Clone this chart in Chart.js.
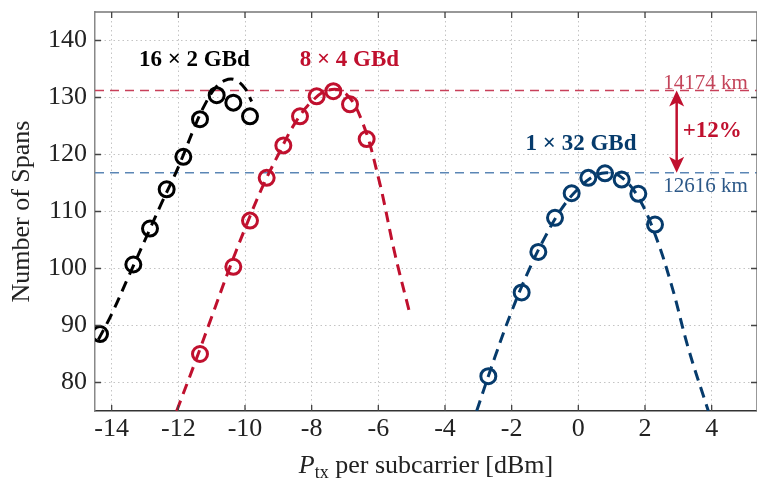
<!DOCTYPE html>
<html lang="en">
<head>
<meta charset="UTF-8">
<title>Number of Spans vs launch power</title>
<script src="https://cdn.jsdelivr.net/npm/chart.js"></script>
<style>
  html, body { margin: 0; padding: 0; background: #fff; }
  #wrap { width: 757px; height: 479px; }
</style>
</head>
<body>
<div id="wrap"><canvas id="spanChart" width="757" height="479"></canvas></div>
<script>
// measured points (launch power per subcarrier [dBm], number of spans)
const blackX = [-14.35, -13.35, -12.85, -12.35, -11.85, -11.35, -10.85, -10.35, -9.85];
const blackY = [88.5, 100.7, 107.0, 113.9, 119.6, 126.2, 130.4, 129.1, 126.7];
const redX = [-11.35, -10.35, -9.85, -9.35, -8.85, -8.35, -7.85, -7.35, -6.85, -6.35];
const redY = [85.0, 100.3, 108.4, 115.9, 121.6, 126.7, 130.2, 131.1, 128.8, 122.7];
const blueX = [-2.7, -1.7, -1.2, -0.7, -0.2, 0.3, 0.8, 1.3, 1.8, 2.3];
const blueY = [81.1, 95.8, 102.9, 108.9, 113.2, 115.9, 116.7, 115.6, 113.1, 107.7];

// dashed fit curves
const fitBlackX = [-14.4, -14.0, -13.5, -13.0, -12.5, -12.0, -11.5, -11.2, -10.9, -10.6, -10.3, -10.0, -9.8];
const fitBlackY = [87.5, 92.0, 98.5, 105.0, 111.5, 117.8, 125.0, 128.8, 131.6, 133.0, 133.1, 131.6, 129.3];
const fitRedX = [-12.05, -11.5, -11.0, -10.5, -10.0, -9.5, -9.0, -8.5, -8.0, -7.5, -7.0, -6.5, -6.0, -5.5, -5.05];
const fitRedY = [75.0, 83.5, 91.5, 99.5, 107.0, 114.0, 120.0, 125.5, 129.3, 131.3, 130.8, 126.0, 116.0, 102.5, 92.0];
const fitBlueX = [-3.05, -2.5, -2.0, -1.5, -1.0, -0.5, 0.0, 0.5, 0.9, 1.3, 1.8, 2.3, 2.8, 3.3, 3.9];
const fitBlueY = [75.0, 84.5, 92.5, 99.5, 105.5, 110.5, 114.0, 116.3, 116.8, 116.0, 112.5, 106.0, 97.0, 86.0, 75.0];

const xTicks = [-14, -12, -10, -8, -6, -4, -2, 0, 2, 4];
const yTicks = [80, 90, 100, 110, 120, 130, 140];

// best reach of each configuration, in spans
const refLevels = [131.24, 116.81];
const refLabels = ['14174 km', '12616 km'];
const groupLabels = ['16 \u00d7 2 GBd', '8 \u00d7 4 GBd', '1 \u00d7 32 GBd'];
const groupLabelX = [-11.52, -6.87, 0.08];
const groupLabelY = [136.5, 136.5, 121.8];
const gainLabel = '+12%';
const arrowX = 2.95;

const BLACK = '#000000';
const RED = '#c0102e';
const BLUE = '#063b6c';
const SERIF = '"Liberation Serif", "DejaVu Serif", serif';

const pairs = (xs, ys) => xs.map((v, i) => ({ x: v, y: ys[i] }));

function fitSet(xs, ys, color) {
    return {
        data: pairs(xs, ys), showLine: true, pointRadius: 0,
        borderColor: color, borderWidth: 3, borderDash: [11, 7],
        tension: 0.4
    };
}
function markSet(xs, ys, color) {
    return {
        data: pairs(xs, ys), showLine: false, pointRadius: 7.5,
        pointBorderWidth: 3, pointBorderColor: color,
        pointBackgroundColor: 'rgba(0,0,0,0)'
    };
}

const decor = {
    id: 'decor',
    beforeDatasetsDraw(chart) {
        const { ctx, chartArea: a, scales: { y } } = chart;
        const cols = ['#c8405a', '#5b86b5'];
        ctx.save();
        ctx.lineWidth = 1.4;
        ctx.setLineDash([9, 6]);
        refLevels.forEach((v, i) => {
            const py = y.getPixelForValue(v);
            ctx.strokeStyle = cols[i];
            ctx.beginPath();
            ctx.moveTo(a.left, py);
            ctx.lineTo(a.right, py);
            ctx.stroke();
        });
        ctx.restore();
    },
    afterDraw(chart) {
        const { ctx, chartArea: a, scales: { x, y } } = chart;
        ctx.save();

        // frame on top and inward ticks on all sides
        ctx.strokeStyle = '#777';
        ctx.lineWidth = 1.5;
        ctx.beginPath();
        ctx.moveTo(a.left, a.top);
        ctx.lineTo(a.right, a.top);
        ctx.lineTo(a.right, a.bottom);
        ctx.stroke();
        ctx.strokeStyle = '#444';
        ctx.lineWidth = 1.3;
        ctx.beginPath();
        xTicks.forEach(v => {
            const px = x.getPixelForValue(v);
            ctx.moveTo(px, a.bottom); ctx.lineTo(px, a.bottom - 6);
            ctx.moveTo(px, a.top); ctx.lineTo(px, a.top + 6);
        });
        yTicks.forEach(v => {
            const py = y.getPixelForValue(v);
            ctx.moveTo(a.left, py); ctx.lineTo(a.left + 6, py);
            ctx.moveTo(a.right, py); ctx.lineTo(a.right - 6, py);
        });
        ctx.stroke();

        // double arrow between the two reach levels
        const ax = x.getPixelForValue(arrowX);
        const yTop = y.getPixelForValue(refLevels[0]);
        const yBot = y.getPixelForValue(refLevels[1]);
        ctx.strokeStyle = RED;
        ctx.fillStyle = RED;
        ctx.lineWidth = 2.5;
        ctx.beginPath();
        ctx.moveTo(ax, yTop + 10);
        ctx.lineTo(ax, yBot - 10);
        ctx.stroke();
        const head = (tipY, dir) => {
            ctx.beginPath();
            ctx.moveTo(ax, tipY);
            ctx.lineTo(ax - 7.5, tipY + dir * 16);
            ctx.lineTo(ax, tipY + dir * 12);
            ctx.lineTo(ax + 7.5, tipY + dir * 16);
            ctx.closePath();
            ctx.fill();
        };
        head(yTop, 1);
        head(yBot, -1);

        // texts
        ctx.textBaseline = 'middle';
        ctx.textAlign = 'center';
        ctx.font = 'bold 23px ' + SERIF;
        [BLACK, RED, BLUE].forEach((c, i) => {
            ctx.fillStyle = c;
            ctx.fillText(groupLabels[i], x.getPixelForValue(groupLabelX[i]), y.getPixelForValue(groupLabelY[i]));
        });
        ctx.fillStyle = RED;
        ctx.textAlign = 'left';
        ctx.fillText(gainLabel, ax + 6, (yTop + yBot) / 2);

        ctx.font = '21px ' + SERIF;
        ctx.textBaseline = 'alphabetic';
        ctx.fillStyle = '#c4445a';
        ctx.fillText(refLabels[0], x.getPixelForValue(2.55), yTop - 1);
        ctx.fillStyle = '#2c5888';
        ctx.fillText(refLabels[1], x.getPixelForValue(2.55), yBot + 19);

        // x axis title with subscript
        const cx = (a.left + a.right) / 2;
        const base = 473;
        ctx.fillStyle = '#222';
        const f1 = 'italic 26px ' + SERIF, f2 = '18px ' + SERIF, f3 = '26px ' + SERIF;
        const rest = ' per subcarrier [dBm]';
        ctx.font = f1; const w1 = ctx.measureText('P').width;
        ctx.font = f2; const w2 = ctx.measureText('tx').width;
        ctx.font = f3; const w3 = ctx.measureText(rest).width;
        let px = cx - (w1 + w2 + w3) / 2;
        ctx.font = f1; ctx.fillText('P', px, base); px += w1;
        ctx.font = f2; ctx.fillText('tx', px, base + 5); px += w2;
        ctx.font = f3; ctx.fillText(rest, px, base);
        ctx.restore();
    }
};

new Chart(document.getElementById('spanChart'), {
    type: 'scatter',
    data: {
        datasets: [
            fitSet(fitBlackX, fitBlackY, BLACK),
            fitSet(fitRedX, fitRedY, RED),
            fitSet(fitBlueX, fitBlueY, BLUE),
            markSet(blackX, blackY, BLACK),
            markSet(redX, redY, RED),
            markSet(blueX, blueY, BLUE)
        ]
    },
    options: {
        responsive: false,
        animation: false,
        devicePixelRatio: 1,
        layout: { autoPadding: false, padding: { top: 12, right: 0, left: 0, bottom: 0 } },
        plugins: { legend: { display: false }, tooltip: { enabled: false } },
        scales: {
            x: {
                type: 'linear', min: -14.5, max: 5.36,
                afterBuildTicks: s => { s.ticks = xTicks.map(v => ({ value: v })); },
                afterFit: s => { s.height = 68; s.paddingLeft = 0; s.paddingRight = 0; },
                grid: { color: '#c4c4c4', lineWidth: 1, drawTicks: false },
                border: { display: true, color: '#333', width: 1.5, dash: [1.5, 3] },
                ticks: { font: { family: SERIF, size: 26 }, color: '#222', padding: 3, callback: v => String(v) }
            },
            y: {
                type: 'linear', min: 75, max: 145,
                afterBuildTicks: s => { s.ticks = yTicks.map(v => ({ value: v })); },
                afterFit: s => { s.width = 95; s.paddingTop = 0; s.paddingBottom = 0; },
                grid: { color: '#c4c4c4', lineWidth: 1, drawTicks: false },
                border: { display: true, color: '#888', width: 1.5, dash: [1.5, 3] },
                ticks: { font: { family: SERIF, size: 26 }, color: '#222', padding: 8, callback: v => String(v) },
                title: { display: true, text: 'Number of Spans', font: { family: SERIF, size: 26 }, color: '#222', padding: { top: 7, bottom: 0 } }
            }
        }
    },
    plugins: [decor]
});
</script>
</body>
</html>
